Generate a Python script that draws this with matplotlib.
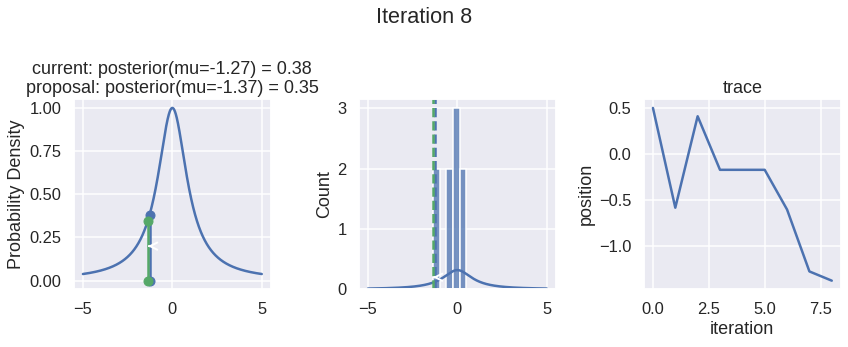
import numpy as np
import matplotlib
matplotlib.use("Agg")
import matplotlib.pyplot as plt
import seaborn as sns

sns.set_theme(context="talk", style="darkgrid", color_codes=True)
plt.rcParams["font.family"] = ["Liberation Sans", "DejaVu Sans"]

# Metropolis sampler state at this step
iteration = 8
mu_current = -1.27
mu_proposal = -1.37
accepted = True
trace = [0.5, -0.58, 0.41, -0.17, -0.17, -0.17, -0.6, -1.27, -1.37]
trace_xticks = [0.0, 2.5, 5.0, 7.5]


def unnormalized_posterior(mu):
    return 1.0 / (1.0 + np.asarray(mu) ** 2)


def posterior_pdf(mu):
    return unnormalized_posterior(mu) / np.pi


x = np.linspace(-5, 5, 2000)
post_current = float(unnormalized_posterior(mu_current))
post_proposal = float(unnormalized_posterior(mu_proposal))
color = "g" if accepted else "r"

W, H, DPI = 848, 347, 72
fig, (ax1, ax2, ax3) = plt.subplots(ncols=3, figsize=(W / DPI, H / DPI), dpi=DPI)
fig.suptitle("Iteration %i" % iteration)

# Target density with current and proposed positions
ax1.plot(x, unnormalized_posterior(x), lw=2.5)
ax1.plot([mu_current] * 2, [0, post_current], marker="o", color="b", lw=2.5)
ax1.plot([mu_proposal] * 2, [0, post_proposal], marker="o", color=color, lw=2.5)
ax1.annotate("", xy=(mu_proposal, 0.2), xytext=(mu_current, 0.2),
             arrowprops=dict(arrowstyle="->", lw=2.0, color="w"))
ax1.set(ylabel="Probability Density",
        title="current: posterior(mu=%.2f) = %.2f\nproposal: posterior(mu=%.2f) = %.2f"
        % (mu_current, post_current, mu_proposal, post_proposal))
ax1.set_yticks([0, 0.25, 0.5, 0.75, 1.0])

# Histogram of samples so far
sns.histplot(trace, ax=ax2)
ax2.plot(x, posterior_pdf(x), lw=2.5)
ax2.axvline(mu_current, color="b", linestyle="--", lw=2.5)
ax2.axvline(mu_proposal, color=color, linestyle="--", lw=2.5)
ax2.annotate("", xy=(mu_proposal, 0.2), xytext=(mu_current, 0.2),
             arrowprops=dict(arrowstyle="->", lw=2.0, color="w"))
ax2.set_xlim(-5.5, 5.5)

# Trace of positions
ax3.plot(trace, lw=2.5)
ax3.set(xlabel="iteration", ylabel="position", title="trace")
ax3.set_xticks(trace_xticks)

# Panel placement
bottom, height = 57.7 / H, 190.0 / H
width = 196.7 / W
for ax, left in zip((ax1, ax2, ax3), (74.0, 359.0, 644.0)):
    ax.set_position([left / W, bottom, width, height])

fig.savefig("out.png", dpi=DPI)
